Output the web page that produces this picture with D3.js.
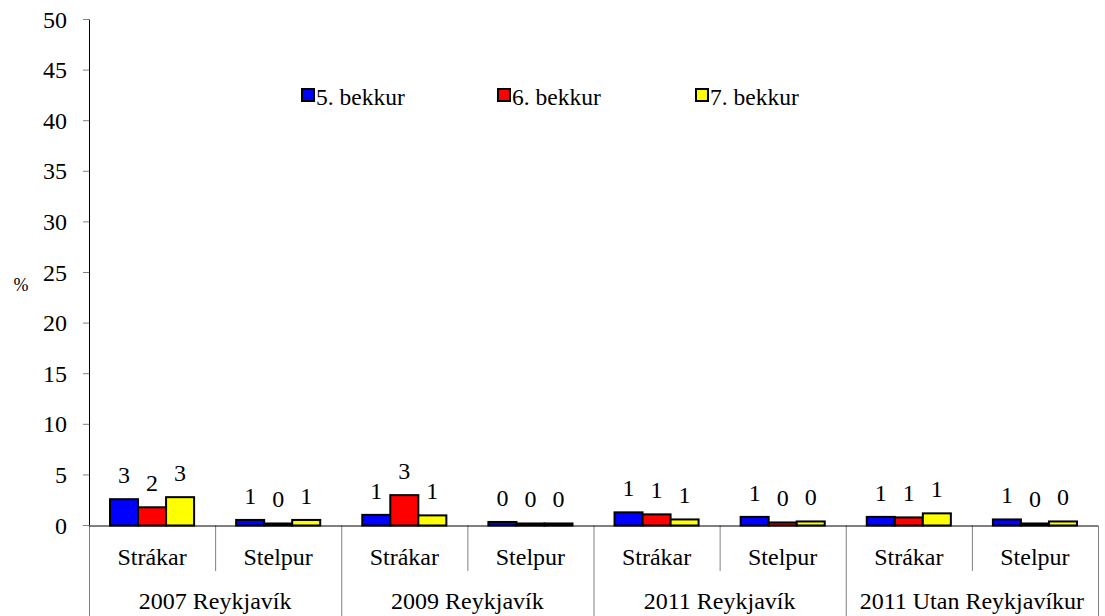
<!DOCTYPE html>
<html><head><meta charset="utf-8">
<script src="https://cdn.jsdelivr.net/npm/d3@7"></script>
<style>body{margin:0;background:#fff}svg{display:block}</style>
</head><body><svg id="c" width="1105" height="616"></svg>
<script>
const groups = ["2007 Reykjavík","2009 Reykjavík","2011 Reykjavík","2011 Utan Reykjavíkur"];
const genders = ["Strákar","Stelpur"];
const seriesNames = ["5. bekkur","6. bekkur","7. bekkur"];
const seriesColors = ["#0000ff","#ff0000","#ffff00"];
const s5 = [2.6, 0.55, 1.05, 0.35, 1.3, 0.85, 0.85, 0.6];
const s6 = [1.8, 0.2, 3.0, 0.2, 1.1, 0.3, 0.8, 0.2];
const s7 = [2.8, 0.55, 1.0, 0.2, 0.6, 0.4, 1.2, 0.4];
const yTicks = [0,5,10,15,20,25,30,35,40,45,50];

const FONT = "'Liberation Serif', 'DejaVu Serif', 'Times New Roman', serif";
const series = [s5,s6,s7];
const cats = [];
groups.forEach(g => genders.forEach(s => cats.push(g + "|" + s)));

const svg = d3.select("#c").attr("font-family", FONT);
const L = 89, R = 1098, T = 19.5, B = 525.5;
const x = d3.scaleBand().domain(cats).range([L,R]).paddingInner(0).paddingOuter(0);
const x1 = d3.scaleBand().domain(seriesNames).range([0,x.bandwidth()]).paddingInner(0).paddingOuter(0.75);
const y = d3.scaleLinear().domain([0,50]).range([B,T]);
const gx = d3.scaleBand().domain(groups).range([L,R]);

function txt(sel){ return sel.attr("font-family", FONT).attr("fill","#000"); }

// y axis ticks
const ya = svg.append("g");
yTicks.forEach(t => {
  ya.append("line").attr("x1",L-6).attr("x2",L).attr("y1",y(t)).attr("y2",y(t)).attr("stroke","#808080").attr("stroke-width",1);
  txt(ya.append("text")).attr("x",67).attr("y",y(t)).attr("dy","0.34em").attr("text-anchor","end").attr("font-size",24).text(t);
});
svg.append("line").attr("x1",L+0.5).attr("x2",L+0.5).attr("y1",T).attr("y2",B).attr("stroke","#000").attr("stroke-width",1);
txt(svg.append("text")).attr("x",21).attr("y",285).attr("dy","0.34em").attr("text-anchor","middle").attr("font-size",18).text("%");

// separators
cats.forEach((c,i) => {
  const xe = x(c);
  const full = i % 2 === 0;
  svg.append("line").attr("x1",xe+0.5).attr("x2",xe+0.5).attr("y1",B).attr("y2",full?616:571).attr("stroke","#808080");
});
svg.append("line").attr("x1",R+0.5).attr("x2",R+0.5).attr("y1",B).attr("y2",616).attr("stroke","#808080");

// bars
seriesNames.forEach((sn,si) => {
  const g = svg.append("g");
  g.selectAll("rect").data(series[si]).join("rect")
    .attr("x",(d,i)=>x(cats[i])+x1(sn))
    .attr("y",d=>y(d))
    .attr("width",x1.bandwidth())
    .attr("height",d=>B-y(d))
    .attr("fill",seriesColors[si]).attr("stroke","#000").attr("stroke-width",2);
  txt(g.selectAll("text").data(series[si]).join("text"))
    .attr("x",(d,i)=>x(cats[i])+x1(sn)+x1.bandwidth()/2)
    .attr("y",d=>y(d)-16)
    .attr("text-anchor","middle").attr("font-size",24)
    .text(d=>d3.format(".0f")(d));
});
svg.append("line").attr("x1",L).attr("x2",R).attr("y1",B+0.5).attr("y2",B+0.5).attr("stroke","#000");

// category labels
cats.forEach(c => {
  txt(svg.append("text")).attr("x",x(c)+x.bandwidth()/2).attr("y",565).attr("text-anchor","middle").attr("font-size",24).text(c.split("|")[1]);
});
groups.forEach(g => {
  txt(svg.append("text")).attr("x",gx(g)+gx.bandwidth()/2).attr("y",609).attr("text-anchor","middle").attr("font-size",24).text(g);
});

// legend
const legX = [302,498,696];
seriesNames.forEach((sn,i) => {
  svg.append("rect").attr("x",legX[i]).attr("y",89).attr("width",12).attr("height",12).attr("fill",seriesColors[i]).attr("stroke","#000").attr("stroke-width",2);
  txt(svg.append("text")).attr("x",legX[i]+14).attr("y",105).attr("font-size",23.5).text(sn);
});
</script></body></html>
